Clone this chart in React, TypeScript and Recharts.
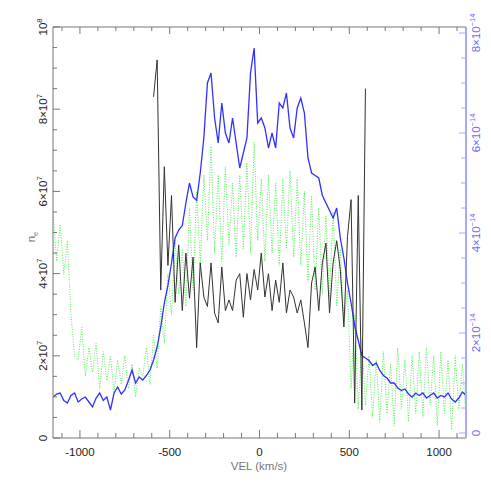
import { ComposedChart, Line, XAxis, YAxis, ReferenceLine } from "recharts";

// velocity grid (km/s)
const VEL = [
  -1150, -1130, -1110, -1090, -1070, -1050, -1030, -1010, -990, -970,
  -950, -930, -910, -890, -870, -850, -830, -810, -790, -770,
  -750, -730, -710, -690, -670, -650, -630, -610, -590, -570,
  -550, -530, -510, -490, -470, -450, -430, -410, -390, -370,
  -350, -330, -310, -290, -270, -250, -230, -210, -190, -170,
  -150, -130, -110, -90, -70, -50, -30, -10, 10, 30,
  50, 70, 90, 110, 130, 150, 170, 190, 210, 230,
  250, 270, 290, 310, 330, 350, 370, 390, 410, 430,
  450, 470, 490, 510, 530, 550, 570, 590, 610, 630,
  650, 670, 690, 710, 730, 750, 770, 790, 810, 830,
  850, 870, 890, 910, 930, 950, 970, 990, 1010, 1030,
  1050, 1070, 1090, 1110, 1130, 1150,
];

// flux, units of 1e-14 (blue, right axis)
const FLUX = [
  0.72, 0.78, 0.8, 0.65, 0.6, 0.75, 0.8, 0.62, 0.68, 0.72,
  0.62, 0.52, 0.7, 0.8, 0.65, 0.72, 0.46, 0.8, 0.92, 0.78,
  0.86, 1.05, 1.26, 1.0, 1.12, 1.06, 1.15, 1.26, 1.46, 1.72,
  2.12, 2.6, 2.95, 3.4, 3.9, 4.06, 4.15, 4.6, 5.0, 4.72,
  4.65, 5.2, 5.9, 7.0, 7.2, 6.3, 5.8, 6.6, 6.0, 5.8,
  6.3, 5.8, 5.3, 5.6, 5.9, 7.2, 7.7, 6.2, 6.3, 6.1,
  5.7, 6.0, 5.7, 6.6, 6.5, 6.8, 6.1, 5.9, 6.5, 6.7,
  6.4, 5.5, 5.2, 5.15, 5.1, 4.75, 4.6, 4.45, 4.3, 4.5,
  3.9, 3.5, 3.0, 2.6, 2.15, 1.85, 1.55, 1.5, 1.45, 1.35,
  1.4, 1.25, 1.15, 1.1, 1.0, 1.0, 0.9, 0.85, 0.88, 0.78,
  0.72, 0.8, 0.75, 0.8, 0.7, 0.75, 0.8, 0.7, 0.75, 0.72,
  0.8, 0.68, 0.62, 0.7, 0.82, 0.75,
];

// n_e, units of 1e7 (black, left axis), only from -590 to 590 km/s
const NE_FIRST_VEL = -590;
const NE = [
  8.3, 9.2, 3.6, 6.6, 4.2, 5.9, 3.3, 4.7, 3.1, 4.5,
  3.4, 4.4, 2.2, 4.26, 3.43, 3.2, 4.26, 3.04, 2.8, 4.16,
  3.1, 3.36, 3.1, 3.84, 4.0, 2.94, 4.0, 3.36, 4.1, 3.6,
  4.5, 3.43, 4.0, 3.1, 3.84, 3.3, 4.26, 3.04, 3.6, 3.43,
  3.04, 3.36, 2.8, 2.2, 3.77, 4.16, 3.1, 4.26, 4.74, 3.04,
  4.26, 4.8, 4.1, 2.7, 4.9, 5.8, 0.85, 5.9, 0.68, 8.5,
];

// second model, units of 1e7 (green dotted, left axis)
const MODEL = [
  5.5, 4.3, 5.2, 4.0, 4.8, 3.0, 2.0, 1.9, 2.7, 1.5,
  2.2, 1.6, 2.3, 1.2, 2.1, 1.4, 2.0, 1.1, 1.9, 1.3,
  2.0, 1.2, 1.8, 1.0, 1.7, 1.5, 2.2, 1.3, 2.5, 1.7,
  3.2, 2.3, 4.0, 3.0, 4.8, 3.5, 4.6, 3.2, 5.6, 3.6,
  6.0, 4.2, 6.4, 4.8, 7.1, 4.5, 6.4, 4.3, 6.6, 4.7,
  6.2, 4.4, 6.4, 4.6, 6.7, 4.5, 7.2, 4.8, 6.3, 4.3,
  6.4, 4.5, 6.2, 4.2, 6.3, 4.6, 6.5, 4.4, 6.3, 4.2,
  6.0, 3.8, 5.9, 3.6, 5.6, 3.5, 5.4, 3.4, 5.5, 3.2,
  4.6, 2.8, 3.6, 1.2, 3.0, 0.7, 2.4, 0.8, 2.0, 0.5,
  1.9, 0.4, 2.1, 0.6, 1.8, 0.3, 2.2, 0.7, 1.9, 0.4,
  2.0, 0.6, 2.1, 0.5, 2.2, 0.8, 2.0, 0.3, 2.1, 0.6,
  1.9, 0.2, 2.0, 0.7, 1.8, 0.5,
];

const X_TICKS = [
  -1100, -1000, -900, -800, -700, -600, -500, -400, -300, -200, -100, 0,
  100, 200, 300, 400, 500, 600, 700, 800, 900, 1000, 1100,
];
const LEFT_TICKS = [
  0, 0.5, 1, 1.5, 2, 2.5, 3, 3.5, 4, 4.5, 5, 5.5, 6, 6.5, 7, 7.5, 8, 8.5, 9, 9.5, 10,
];
const RIGHT_TICKS = [
  0, 0.5, 1, 1.5, 2, 2.5, 3, 3.5, 4, 4.5, 5, 5.5, 6, 6.5, 7, 7.5, 8,
];

const W = 491;
const H = 491;
const PLOT_L = 53;
const PLOT_R = 466;
const PLOT_T = 27;
const PLOT_B = 438;
const FONT = "'Liberation Sans', Arial, sans-serif";
const AXIS = "#777";
const RIGHT_AXIS = "#a8a8ff";

const neOffset = VEL.indexOf(NE_FIRST_VEL);
const data = VEL.map((vel, i) => ({
  vel,
  flux: FLUX[i],
  ne: i >= neOffset && i - neOffset < NE.length ? NE[i - neOffset] : null,
  model: MODEL[i],
}));

function XTick(props: any) {
  const { x, payload } = props;
  const v = payload.value;
  const major = v % 500 === 0;
  return (
    <g>
      <line x1={x} x2={x} y1={PLOT_B} y2={PLOT_B - (major ? 8 : 5)} stroke={AXIS} />
      <line x1={x} x2={x} y1={PLOT_T} y2={PLOT_T + (major ? 7 : 4)} stroke={AXIS} />
      {major && (
        <text x={x} y={456} textAnchor="middle" fontSize={11.5} fill="#222" fontFamily={FONT}>
          {v}
        </text>
      )}
    </g>
  );
}

function LeftTick(props: any) {
  const { y, payload } = props;
  const v = payload.value;
  const major = v % 2 === 0;
  const tx = 47;
  let label: any = null;
  if (major) {
    label = (
      <text
        x={tx}
        y={y}
        transform={`rotate(-90, ${tx}, ${y})`}
        textAnchor="middle"
        fontSize={11.5}
        fill="#222"
        fontFamily={FONT}
      >
        {v === 0 ? "0" : v === 10 ? "10" : `${v}×10`}
        {v !== 0 && (
          <tspan dy={-5} fontSize={7.5}>
            {v === 10 ? "8" : "7"}
          </tspan>
        )}
      </text>
    );
  }
  return (
    <g>
      <line x1={PLOT_L} x2={PLOT_L + (major ? 7 : 4)} y1={y} y2={y} stroke={AXIS} />
      {label}
    </g>
  );
}

function RightTick(props: any) {
  const { y, payload } = props;
  const v = payload.value;
  const major = v % 2 === 0;
  const tx = 480;
  return (
    <g>
      <line x1={PLOT_R} x2={PLOT_R - (major ? 7 : 5)} y1={y} y2={y} stroke={RIGHT_AXIS} />
      {major && (
        <text
          x={tx}
          y={y}
          transform={`rotate(-90, ${tx}, ${y})`}
          textAnchor="middle"
          fontSize={11.5}
          fill="#6a6aff"
          fontFamily={FONT}
        >
          {v === 0 ? "0" : `${v}×10`}
          {v !== 0 && (
            <tspan dy={-5} fontSize={7.5}>
              −14
            </tspan>
          )}
        </text>
      )}
    </g>
  );
}

export default function App() {
  return (
    <div style={{ position: "absolute", left: 0, top: 0, width: W, height: H, background: "#fff" }}>
      <ComposedChart
        width={W}
        height={H}
        data={data}
        margin={{ top: PLOT_T, right: 0, bottom: 0, left: 0 }}
      >
        <XAxis
          dataKey="vel"
          type="number"
          domain={[-1150, 1150]}
          allowDataOverflow
          ticks={X_TICKS}
          interval={0}
          height={H - PLOT_B}
          tick={<XTick />}
          tickLine={false}
          axisLine={{ stroke: AXIS }}
        />
        <YAxis
          yAxisId="left"
          orientation="left"
          type="number"
          domain={[0, 10]}
          allowDataOverflow
          ticks={LEFT_TICKS}
          interval={0}
          width={PLOT_L}
          tick={<LeftTick />}
          tickLine={false}
          axisLine={{ stroke: AXIS }}
        />
        <YAxis
          yAxisId="right"
          orientation="right"
          type="number"
          domain={[-0.1, 8.12]}
          allowDataOverflow
          ticks={RIGHT_TICKS}
          interval={0}
          width={W - PLOT_R}
          tick={<RightTick />}
          tickLine={false}
          axisLine={{ stroke: RIGHT_AXIS, strokeWidth: 2 }}
        />
        <ReferenceLine yAxisId="left" y={10} stroke={AXIS} ifOverflow="visible" />
        <Line
          yAxisId="left"
          dataKey="model"
          type="linear"
          stroke="#4cf04c"
          strokeWidth={1}
          strokeDasharray="1 1.5"
          dot={false}
          isAnimationActive={false}
        />
        <Line
          yAxisId="right"
          dataKey="flux"
          type="linear"
          stroke="#3030ff"
          strokeWidth={1.3}
          dot={false}
          isAnimationActive={false}
        />
        <Line
          yAxisId="left"
          dataKey="ne"
          type="linear"
          stroke="#333"
          strokeWidth={1}
          dot={false}
          connectNulls={false}
          isAnimationActive={false}
        />
      </ComposedChart>
      <svg
        width={W}
        height={H}
        style={{ position: "absolute", left: 0, top: 0, pointerEvents: "none" }}
      >
        <text x={259} y={470} textAnchor="middle" fontSize={11.5} fill={AXIS} fontFamily={FONT}>
          VEL (km/s)
        </text>
        <text
          x={35}
          y={237}
          transform="rotate(-90, 35, 237)"
          textAnchor="middle"
          fontSize={11.5}
          fill={AXIS}
          fontFamily={FONT}
        >
          n
          <tspan dy={3} fontSize={7.5}>
            e
          </tspan>
        </text>
      </svg>
    </div>
  );
}
